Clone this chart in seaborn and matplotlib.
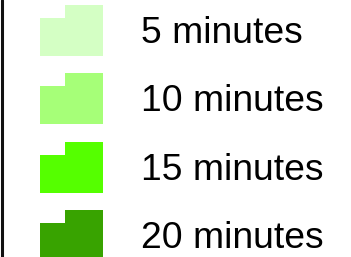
import matplotlib
matplotlib.use("Agg")
import matplotlib.pyplot as plt
import seaborn as sns

# legend entries
labels = ["5 minutes", "10 minutes", "15 minutes", "20 minutes"]
colors = ["#d4ffc4", "#a6ff78", "#55ff00", "#38a300"]

sns.set_style("white")
plt.rcParams["font.family"] = ["Liberation Sans", "DejaVu Sans"]

fig = plt.figure(figsize=(3.51, 2.57), dpi=100)
ax = fig.add_axes([0, 0, 1, 1])
ax.set_xlim(0, 351)
ax.set_ylim(257, 0)
ax.axis("off")

row_h = 68.4
for i, (lab, col) in enumerate(zip(labels, colors)):
    top = 5 + i * row_h
    bottom = top + 51
    # stepped swatch: lower left block, taller right block
    ax.fill_between([40, 65, 103], [top + 13, top, top], bottom,
                    step="post", color=col, linewidth=0)
    ax.text(141, 42.7 + i * row_h, lab, fontsize=26.8, va="baseline",
            ha="left", color="black")

# left border line
ax.axvline(1.5, color="#111111", linewidth=2.2)

fig.savefig("out.png", dpi=100)
